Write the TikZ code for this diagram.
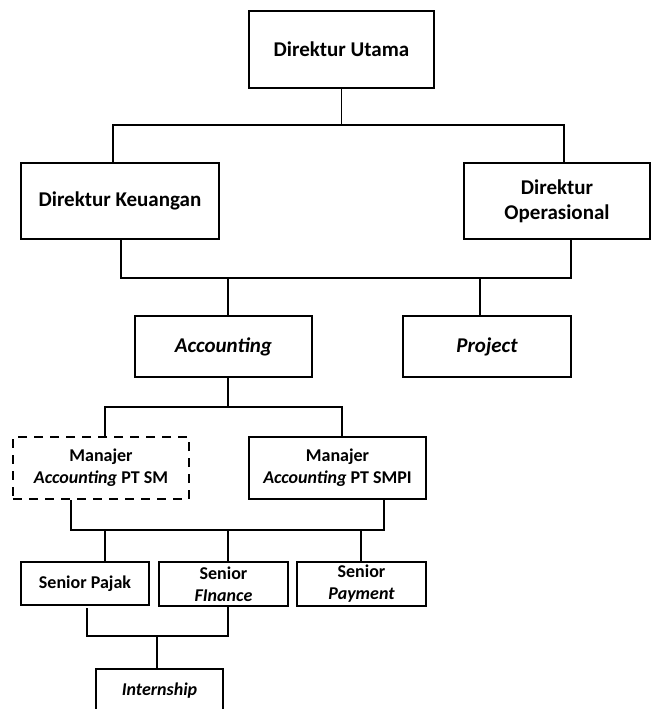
\documentclass[tikz,border=0pt]{standalone}
\usepackage{fontspec}
\setmainfont{Carlito}
\begin{document}
\begin{tikzpicture}[x=1pt,y=-1pt,
  box/.style={draw, line width=2.3pt, inner sep=0pt, align=center, font=\bfseries\fontsize{21}{25}\selectfont},
  smallbox/.style={box, font=\bfseries\fontsize{18}{22}\selectfont},
  conn/.style={line width=1.5pt}]
\useasboundingbox (0,0) rectangle (652,709);
% boxes
\node[box, minimum width=185pt, minimum height=77pt] (du) at (341.5,49.5) {Direktur Utama};
\node[box, minimum width=198pt, minimum height=76pt] (dk) at (120,201) {Direktur Keuangan};
\node[box, minimum width=186pt, minimum height=76pt] (dop) at (557,201) {Direktur\\Operasional};
\node[box, minimum width=177pt, minimum height=61pt] (acc) at (223.5,346.5) {\itshape Accounting};
\node[box, minimum width=168pt, minimum height=61pt] (proj) at (487,346.5) {\itshape Project};
\node[smallbox, dash pattern=on 9pt off 7pt, minimum width=176pt, minimum height=62pt] (msm) at (101,468) {Manajer\\{\itshape Accounting} PT SM};
\node[smallbox, minimum width=177pt, minimum height=62pt] (msmpi) at (337.5,468) {Manajer\\{\itshape Accounting} PT SMPI};
\node[smallbox, minimum width=128pt, minimum height=43pt] (sp) at (85,583.5) {Senior Pajak};
\node[smallbox, minimum width=129pt, minimum height=44pt] (sf) at (223.5,584) {Senior\\{\itshape FInance}};
\node[smallbox, minimum width=129pt, minimum height=44pt] (spay) at (361.5,584) {Senior\\{\itshape Payment}};
\node[smallbox, minimum width=127pt, minimum height=44pt] (intern) at (159.5,691) {\itshape Internship};
% bus coordinates
\coordinate (b1L) at (113,125);
\coordinate (b1R) at (564,125);
\coordinate (b2L) at (121,278);
\coordinate (b2R) at (571,278);
\coordinate (b2a) at (228,278);
\coordinate (b2p) at (480,278);
\coordinate (b3L) at (105,407);
\coordinate (b3R) at (342,407);
\coordinate (b4L) at (71,530);
\coordinate (b4R) at (384,530);
\coordinate (b4p) at (105,530);
\coordinate (b4f) at (228,530);
\coordinate (b4y) at (361,530);
\coordinate (b5L) at (87,636);
\coordinate (b5R) at (228,636);
\coordinate (b5i) at (157,636);
\coordinate (spb) at (87,608);
% connectors
\draw[conn] (du.south) -- (du.south |- b1L);
\draw[conn] (dk.north -| b1L) -- (b1L) -- (b1R) -- (dop.north -| b1R);
\draw[conn] (dk.south -| b2L) -- (b2L) -- (b2R) -- (dop.south -| b2R);
\draw[conn] (b2a) -- (acc.north -| b2a);
\draw[conn] (b2p) -- (proj.north -| b2p);
\draw[conn] (acc.south -| b2a) -- (b2a |- b3L);
\draw[conn] (msm.north -| b3L) -- (b3L) -- (b3R) -- (msmpi.north -| b3R);
\draw[conn] (msm.south -| b4L) -- (b4L) -- (b4R) -- (msmpi.south -| b4R);
\draw[conn] (b4p) -- (sp.north -| b4p);
\draw[conn] (b4f) -- (sf.north -| b4f);
\draw[conn] (b4y) -- (spay.north -| b4y);
\draw[conn] (spb) -- (b5L) -- (b5R) -- (sf.south -| b5R);
\draw[conn] (b5i) -- (intern.north -| b5i);
\end{tikzpicture}
\end{document}
